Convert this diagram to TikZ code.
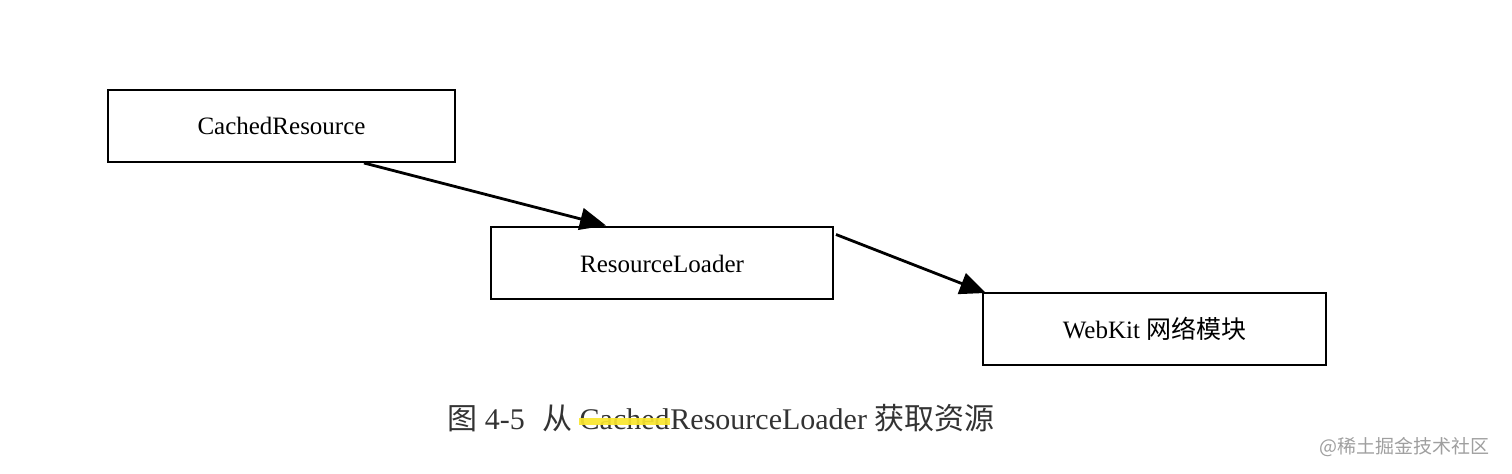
\documentclass[tikz,border=0pt]{standalone}
\usepackage{fontspec}
\setmainfont{Liberation Serif}
\newfontfamily\cjk{Noto Sans CJK SC}
\usepackage{tikz}
\usetikzlibrary{positioning,arrows.meta,calc}
\definecolor{hilite}{HTML}{FAE62E}

\begin{document}
\begin{tikzpicture}[
    x=0.5pt, y=-0.5pt,
    box/.style={rectangle, draw, line width=1pt, minimum height=36pt,
                font=\fontsize{12.5}{15}\selectfont, inner sep=1pt},
    link/.style={line width=1.4pt, -{Triangle[length=13pt,width=11pt]}},
    capt/.style={font=\fontsize{15}{18}\selectfont, text=black!80, inner sep=0pt},
    annot/.style={font=\cjk\fontsize{9.5}{11}\selectfont, text=gray!75},
]
\useasboundingbox (0,0) rectangle (1512,474);

% Boxes
\node[box, minimum width=173.5pt] (cres) at (281.5,126) {CachedResource};
\node[box, minimum width=171pt] (rload) at (662,263.5) {ResourceLoader};
\node[box, minimum width=171.5pt] (webkit) at (1154.5,329) {WebKit {\cjk 网络模块}};

% Links
\draw[link] ($(cres.south west)+(257,0)$) -- ($(rload.north west)+(116,-1)$);
\draw[link] ($(rload.north east)+(2,8)$) -- ($(webkit.north west)+(4,1)$);

% Caption
\node[capt, anchor=base west] (cap1) at (447,430) {{\cjk 图} 4-5\hspace{0.6em}{\cjk 从}\kern0.2em};
\node[capt, anchor=base west] (cached) at (cap1.base east) {Cached};
\node[capt, anchor=base west] (cap2) at (cached.base east) {ResourceLoader {\cjk 获取资源}};
\draw[hilite, line width=3.5pt, opacity=0.92] ($(cached.west)+(0,2)$) -- ($(cached.east)+(0,2)$);

% Watermark
\node[annot, anchor=east] (mark) at (1497,447) {@稀土掘金技术社区};
\end{tikzpicture}
\end{document}
